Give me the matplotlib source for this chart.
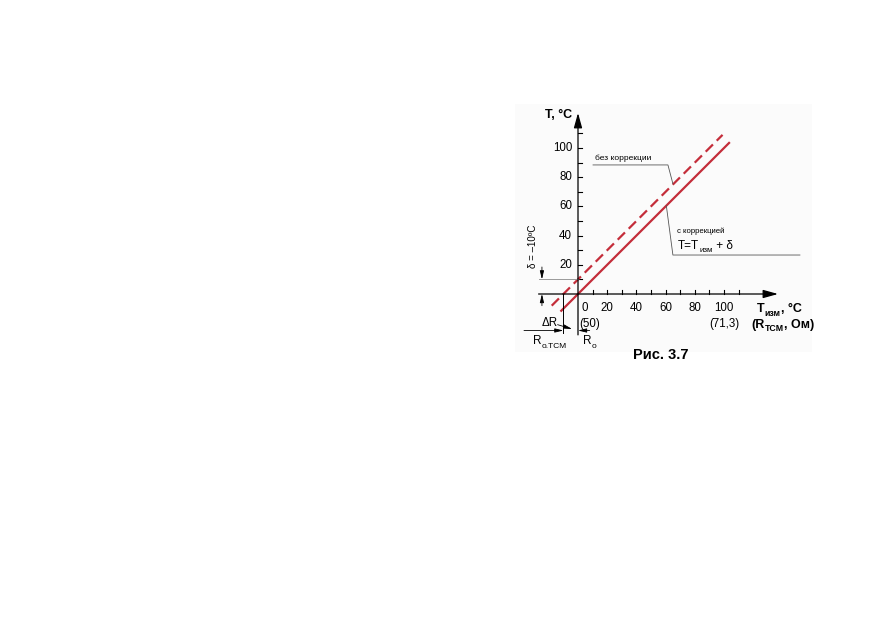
import matplotlib
matplotlib.use("Agg")
import matplotlib.pyplot as plt
from matplotlib.patches import Rectangle

NARROW = ["Liberation Sans Narrow", "Liberation Sans", "DejaVu Sans"]
BOLD = ["Liberation Sans", "DejaVu Sans"]
RED = "#c42d3a"

# values (chart units: degrees / same scale on both axes)
tick_vals = [10, 20, 30, 40, 50, 60, 70, 80, 90, 100, 110]
y_labels = [20, 40, 60, 80, 100]
x_labels = [0, 20, 40, 60, 80, 100]
solid_x = [-12, 104]
solid_y = [-12, 104]
dashed_x = [-18, 99]
dashed_y = [-8, 109]
delta = 10

# pixel geometry of the reference
ORIGIN = (578, 294)
SCALE = 1.46
W, H = 872, 618

fig = plt.figure(figsize=(W / 100, H / 100), dpi=100)
ax = fig.add_axes([0, 0, 1, 1])
ax.set_xlim(-ORIGIN[0] / SCALE, (W - ORIGIN[0]) / SCALE)
ax.set_ylim((ORIGIN[1] - H) / SCALE, ORIGIN[1] / SCALE)
ax.axis("off")

# faint paper background of the figure block
ax.add_patch(Rectangle((-43, -40), 203, 170, facecolor="#fbfbfb", edgecolor="none", zorder=0))

arrow_kw = dict(arrowstyle="-|>,head_length=0.9,head_width=0.25", color="black", lw=0.9,
                shrinkA=0, shrinkB=0)
small_arrow = dict(arrowstyle="-|>,head_length=0.5,head_width=0.12", color="black", lw=0.6,
                   shrinkA=0, shrinkB=0)

# axes
ax.annotate("", xy=(0, 124), xytext=(0, -28), arrowprops=arrow_kw)
ax.annotate("", xy=(137, 0), xytext=(-27, 0), arrowprops=arrow_kw)
for v in tick_vals:
    ax.plot([0, 3], [v, v], color="black", lw=0.8)
    ax.plot([v, v], [0, 3], color="black", lw=0.8)

for v in y_labels:
    ax.text(-4, v, str(v), ha="right", va="center", fontsize=8.3, family=NARROW)
for v in x_labels:
    xp = 4.8 if v == 0 else v
    ax.text(xp, -9.6, str(v), ha="center", va="center", fontsize=8.3, family=NARROW)

# characteristic lines
ax.plot(solid_x, solid_y, color=RED, lw=1.6, solid_capstyle="butt")
ax.plot(dashed_x, dashed_y, color=RED, lw=1.6, dashes=(4.6, 2.4))

# delta dimension
ax.plot([-27, 0], [delta, delta], color="#999999", lw=0.7)
ax.annotate("", xy=(-24.7, delta), xytext=(-24.7, 18.5), arrowprops=small_arrow)
ax.annotate("", xy=(-24.7, 0), xytext=(-24.7, -8), arrowprops=small_arrow)
ax.text(-30.8, 33, "δ = –10ºC", rotation=90, ha="center", va="center", fontsize=7, family=NARROW)

# resistance dimensions
ax.plot([-10, -10], [0, -27], color="black", lw=0.7)
ax.annotate("", xy=(-10, -25), xytext=(-37, -25), arrowprops=small_arrow)
ax.annotate("", xy=(0, -25), xytext=(8, -25), arrowprops=small_arrow)
ax.annotate("", xy=(-4, -24), xytext=(-14, -21), arrowprops=small_arrow)
ax.text(-14.2, -20, "ΔR", ha="right", va="center", fontsize=8.3, family=NARROW)
ax.text(0.6, -20.5, "(50)", ha="left", va="center", fontsize=8.3, family=NARROW)
ax.text(100, -20.5, "(71,3)", ha="center", va="center", fontsize=8.3, family=NARROW)

fig.canvas.draw()
renderer = fig.canvas.get_renderer()


def chain(x, y, parts, family, weight="normal"):
    # parts: (text, fontsize, vertical offset in points)
    dx = 0.0
    for s, size, dy in parts:
        t = ax.annotate(s, xy=(x, y), xytext=(dx, dy), textcoords="offset points",
                        ha="left", va="baseline", fontsize=size, family=family,
                        fontweight=weight)
        bb = t.get_window_extent(renderer)
        dx += bb.width * 72 / fig.dpi


chain(-30.8, -34.5, [("R", 8.5, 0), ("o.TCM", 6, -2.5)], NARROW)
chain(3.4, -34.5, [("R", 8.5, 0), ("o", 6, -2.5)], NARROW)

# axis titles
ax.text(-4, 122.6, "T, °C", ha="right", va="center", fontsize=9, family=BOLD, fontweight="bold")
chain(122.6, -12.6, [("T", 9, 0), ("изм", 6.3, -2.3), (", °C", 9, 0)], BOLD, "bold")
chain(119, -23, [("(R", 9, 0), ("TCM", 6.3, -2.3), (", Ом)", 9, 0)], BOLD, "bold")

# callouts
ax.text(11.6, 93.2, "без коррекции", ha="left", va="center", fontsize=6, family=NARROW)
ax.plot([10.3, 61.6, 65], [88.4, 88.4, 75.5], color="#555555", lw=0.6)
ax.text(67.8, 43.2, "с коррекцией", ha="left", va="center", fontsize=5.6, family=NARROW)
chain(68.5, 30.8, [("T=T", 8.5, 0), ("изм", 5.8, -2.3), (" + δ", 8.5, 0)], NARROW)
ax.plot([60.5, 65, 152], [60.5, 26.7, 26.7], color="#555555", lw=0.6)

ax.text(57, -41.8, "Рис. 3.7", ha="center", va="center", fontsize=10.5, family=BOLD,
        fontweight="bold")

fig.savefig("out.png", dpi=100)
